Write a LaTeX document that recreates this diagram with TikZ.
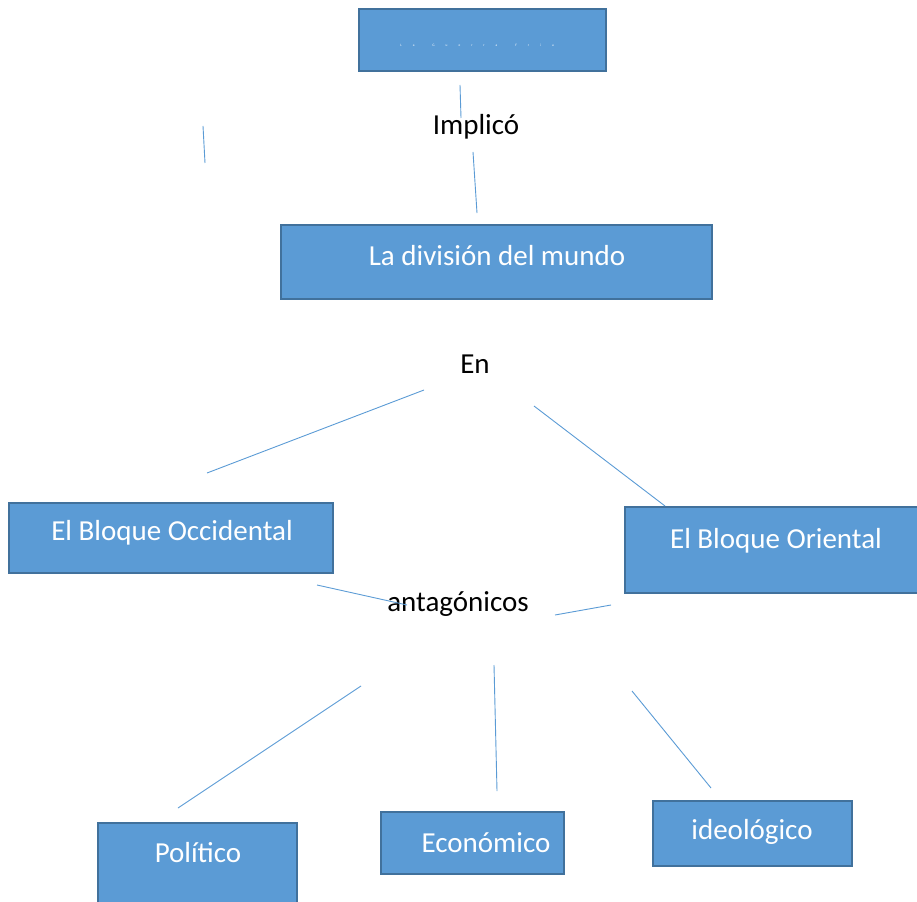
\documentclass[tikz,border=0pt]{standalone}
\usepackage{fontspec}
\setmainfont{Carlito}
\usepackage{xcolor}
\definecolor{boxfill}{HTML}{5B9BD5}
\definecolor{boxline}{HTML}{41719C}
\definecolor{linkline}{HTML}{5B9BD5}
\tikzset{
  concept/.style={draw=boxline, line width=2pt, fill=boxfill, text=white, inner sep=0pt},
  link/.style={draw=linkline, line width=0.9pt},
  word/.style={text=black, font=\fontsize{29}{32}\selectfont}
}

\begin{document}
\begin{tikzpicture}[x=1pt, y=-1pt, font=\fontsize{29}{32}\selectfont]
    \useasboundingbox (0,0) rectangle (917,901);
    % boxes
    \begin{scope}
    \clip (0,0) rectangle (917,901);
    \draw[concept] (359,9) rectangle (606,71);
    \draw[concept] (281,225) rectangle (712,299);
    \draw[concept] (9,503) rectangle (333,573);
    \draw[concept] (625,507) rectangle (918,593);
    \draw[concept] (98,823) rectangle (297,903);
    \draw[concept] (381,812) rectangle (564,874);
    \draw[concept] (653,801) rectangle (852,866);
    \end{scope}
    % box texts
    \node[text=white, font=\fontsize{3.5}{4}\selectfont] (guerra) at (477,45)
      {\spaceskip=11pt L a\hspace{7pt} G u e r r a\hspace{7pt} F r i a};
    \node[text=white] (division) at (497,256) {La división del mundo};
    \node[text=white] (occidental) at (172,533) {El Bloque Occidental};
    \node[text=white] (oriental) at (776,541) {El Bloque Oriental};
    \node[text=white] (politico) at (198,853) {Político};
    \node[text=white] (economico) at (486,843) {Económico};
    \node[text=white] (ideologico) at (752,832) {ideológico};
    % link words
    \node[word] (implico) at (476,127) {Implicó};
    \node[word] (en) at (475,364) {En};
    \node[word] (antag) at (458,604) {antagónicos};
    % connector ends
    \coordinate (a1) at (460,85);   \coordinate (a2) at (461,118);
    \coordinate (b1) at (203,126);  \coordinate (b2) at (205,163);
    \coordinate (c1) at (473,152);  \coordinate (c2) at (477,213);
    \coordinate (d1) at (424,390);  \coordinate (d2) at (207,473);
    \coordinate (e1) at (534,406);  \coordinate (e2) at (665,506);
    \coordinate (f1) at (317,585);  \coordinate (f2) at (407,605);
    \coordinate (g1) at (555,615);  \coordinate (g2) at (611,605);
    \coordinate (h1) at (361,686);  \coordinate (h2) at (178,808);
    \coordinate (i1) at (494,665);  \coordinate (i2) at (497,791);
    \coordinate (j1) at (632,691);  \coordinate (j2) at (711,788);
    % connectors
    \draw[link] (a1) -- (a2);
    \draw[link] (b1) -- (b2);
    \draw[link] (c1) -- (c2);
    \draw[link] (d1) -- (d2);
    \draw[link] (e1) -- (e2);
    \draw[link] (f1) -- (f2);
    \draw[link] (g1) -- (g2);
    \draw[link] (h1) -- (h2);
    \draw[link] (i1) -- (i2);
    \draw[link] (j1) -- (j2);
\end{tikzpicture}
\end{document}
